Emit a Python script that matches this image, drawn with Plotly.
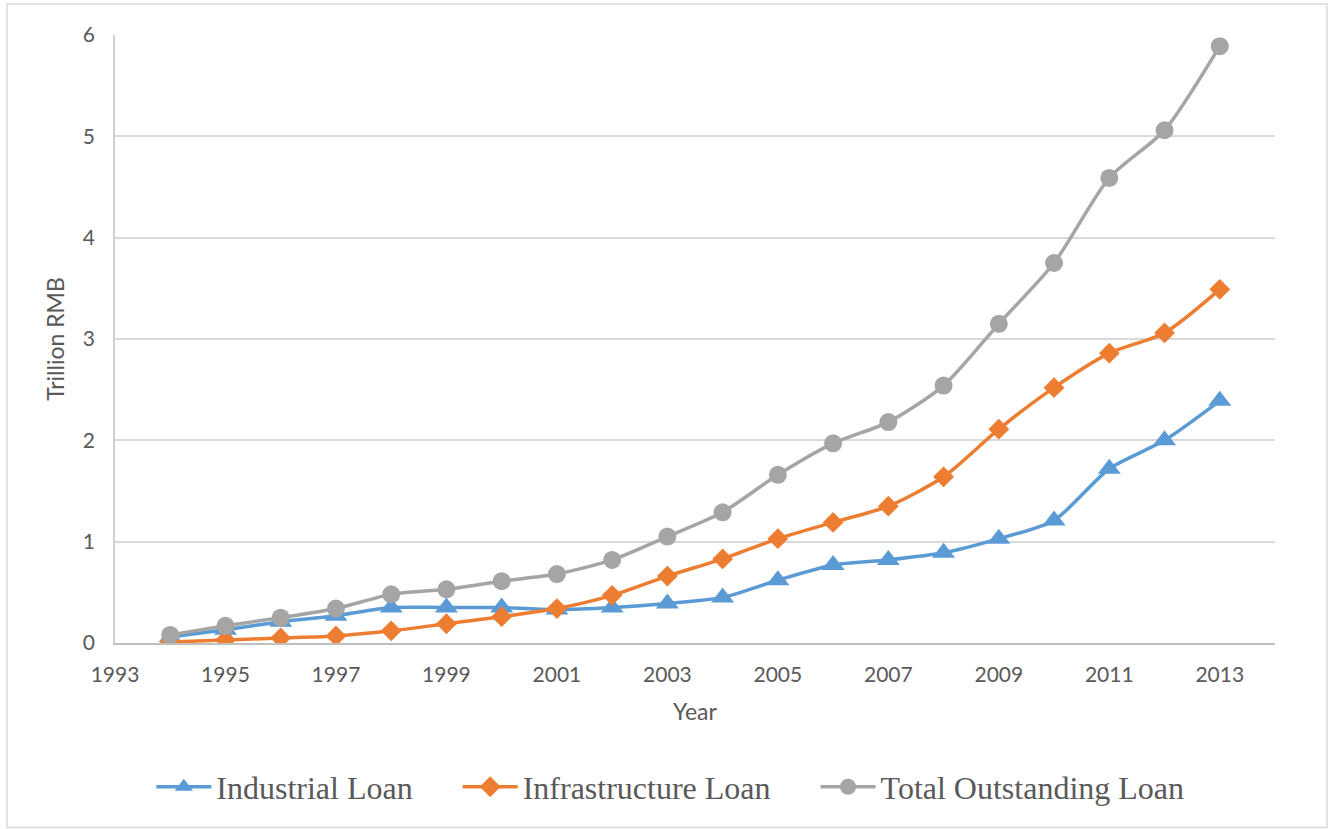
import plotly.graph_objects as go

years = list(range(1994, 2014))
industrial = [0.06, 0.13, 0.21, 0.27, 0.35, 0.35, 0.35, 0.33, 0.35, 0.39,
              0.45, 0.62, 0.77, 0.82, 0.89, 1.03, 1.21, 1.72, 2.00, 2.39]
infrastructure = [0.01, 0.03, 0.05, 0.07, 0.12, 0.19, 0.26, 0.34, 0.47, 0.66,
                  0.83, 1.03, 1.19, 1.35, 1.64, 2.11, 2.52, 2.86, 3.06, 3.49]
total = [0.08, 0.17, 0.25, 0.34, 0.48, 0.53, 0.61, 0.68, 0.82, 1.05,
         1.29, 1.66, 1.97, 2.18, 2.54, 3.15, 3.75, 4.59, 5.06, 5.89]
x_ticks = list(range(1993, 2014, 2))
y_ticks = [0, 1, 2, 3, 4, 5, 6]

NB = "\u00a0"
series = [
    ("Industrial Loan" + NB * 5, industrial, "#5B9BD5", "triangle-up", 20),
    ("Infrastructure Loan" + NB * 5, infrastructure, "#ED7D31", "diamond", 16),
    ("Total Outstanding Loan", total, "#A5A5A5", "circle", 18),
]

fig = go.Figure()
for name, vals, color, sym, size in series:
    fig.add_trace(go.Scatter(
        x=years, y=vals, name=name, mode="lines+markers",
        line=dict(color=color, width=3.5, shape="spline", smoothing=0.7),
        marker=dict(symbol=sym, size=size, color=color),
    ))

fig.update_layout(
    width=1330, height=829,
    paper_bgcolor="white", plot_bgcolor="white",
    margin=dict(l=115, r=55, t=35, b=186, autoexpand=False),
    font=dict(family="Lato, Open Sans, sans-serif", color="#595959", size=21),
    xaxis=dict(
        range=[1993, 2014], tickvals=x_ticks, ticktext=[str(t) for t in x_ticks],
        showgrid=False, showline=True, linecolor="#BFBFBF", linewidth=1.5,
        ticks="", zeroline=False, ticklabelstandoff=12,
        title=dict(text="Year", font=dict(size=23), standoff=19),
        tickfont=dict(size=21),
    ),
    yaxis=dict(
        range=[0, 6], tickvals=y_ticks,
        showgrid=True, gridcolor="#D9D9D9", gridwidth=1.5,
        showline=True, linecolor="#D0D0D0", linewidth=1.5,
        ticks="", zeroline=False, ticklabelstandoff=14,
        title=dict(text="Trillion RMB", font=dict(size=23), standoff=12),
        tickfont=dict(size=21),
    ),
    legend=dict(
        orientation="h", x=0.0313, xanchor="left", y=-0.2368, yanchor="middle",
        font=dict(family="Liberation Serif, Times New Roman, serif", size=32, color="#595959"),
        itemwidth=55, tracegroupgap=0, bgcolor="rgba(0,0,0,0)",
    ),
    shapes=[dict(
        type="rect", xref="paper", yref="paper",
        x0=-0.0931, x1=1.0448, y0=-0.3035, y1=1.051,
        line=dict(color="#D9D9D9", width=1.5), fillcolor="rgba(0,0,0,0)", layer="below",
    )],
)

fig.write_html("out.html", config={"displayModeBar": False},
               post_script="document.body.style.margin='0';")
